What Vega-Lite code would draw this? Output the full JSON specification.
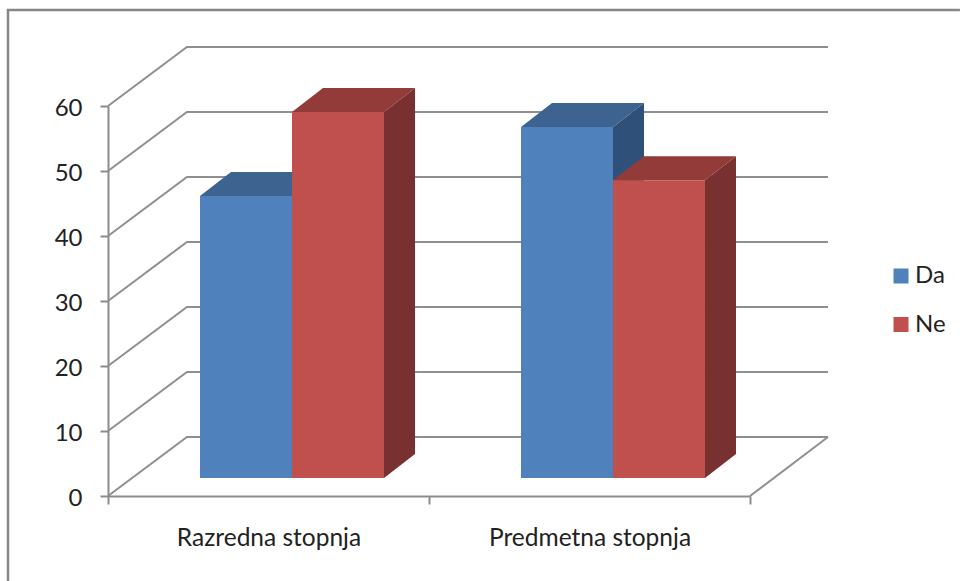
{
"$schema":"https://vega.github.io/schema/vega-lite/v6.json",
"width":642,"height":390,"autosize":{"type":"none"},
"padding":{"left":108,"top":106,"right":210,"bottom":85},
"background":"white",
"config":{"view":{"stroke":null},"font":"Lato"},
"datasets":{
"bars":[
{"category":"Razredna stopnja","series":"Da","value":43.4},
{"category":"Razredna stopnja","series":"Ne","value":56.3},
{"category":"Predmetna stopnja","series":"Da","value":54.0},
{"category":"Predmetna stopnja","series":"Ne","value":45.8}],
"grid":[{"v":0},{"v":10},{"v":20},{"v":30},{"v":40},{"v":50},{"v":60}],
"frame":[{"fx":-0.3115,"fy":-13.1},{"fx":-0.3115,"fy":74.77},{"fx":2.654,"fy":74.77}]
},
"encoding":{
"x":{"field":"px","type":"quantitative","scale":{"domain":[0,2],"nice":false,"zero":false},
"axis":{"title":null,"values":[0,0.5,1,1.5,2],"grid":false,
"labelExpr":"datum.value==0.5?'Razredna stopnja':datum.value==1.5?'Predmetna stopnja':''",
"tickOpacity":{"condition":{"test":"datum.value==0.5||datum.value==1.5","value":0},"value":1},
"domainColor":"#8c8c8c","domainWidth":2,"tickColor":"#8c8c8c","tickWidth":2,"tickSize":8,
"labelFont":"Lato","labelFontSize":24.5,"labelColor":"#222222","labelPadding":22,"labelLimit":400,"labelOverlap":false,"labelFlush":false,"labelBound":false}},
"y":{"field":"py","type":"quantitative","scale":{"domain":[0,60],"nice":false,"zero":false},
"axis":{"title":null,"values":[0,10,20,30,40,50,60],"grid":false,
"domainColor":"#8c8c8c","domainWidth":2,"tickColor":"#8c8c8c","tickWidth":2,"tickSize":8,
"labelFont":"Lato","labelFontSize":24,"labelColor":"#222222","labelPadding":18,"labelOffset":2,"labelOverlap":false,"labelBound":false}}
},
"layer":[
{"data":{"name":"frame"},
"transform":[{"calculate":"datum.fx","as":"px"},{"calculate":"datum.fy","as":"py"}],
"mark":{"type":"line","color":"#868686","strokeWidth":2.5,"clip":false}},
{"data":{"name":"grid"},
"transform":[{"calculate":"[0,1,2]","as":"p"},{"flatten":["p"]},
{"calculate":"datum.p==0?0:(datum.p==1?0.246:2.243)","as":"px"},
{"calculate":"datum.p==0?datum.v:datum.v+9.08","as":"py"}],
"mark":{"type":"line","color":"#8f8f8f","strokeWidth":2,"clip":false},
"encoding":{"detail":{"field":"v"}}},
{"data":{"name":"grid"},
"transform":[{"filter":"datum.v==0"},{"calculate":"[0,1]","as":"p"},{"flatten":["p"]},
{"calculate":"2+datum.p*0.243","as":"px"},
{"calculate":"datum.p*9.08","as":"py"}],
"mark":{"type":"line","color":"#8f8f8f","strokeWidth":2,"clip":false}},
{"data":{"name":"bars"},
"transform":[{"calculate":"[0,1]","as":"d"},{"flatten":["d"]},
{"calculate":"(datum.category=='Razredna stopnja'?0:1)+0.2866*(datum.series=='Da'?2:3)+datum.d*0.0966","as":"px"},
{"calculate":"2.77+datum.d*3.69","as":"py"},
{"calculate":"2.77+datum.value+datum.d*3.69","as":"py2"}],
"mark":{"type":"area","orient":"vertical","clip":false},
"encoding":{"y2":{"field":"py2"},
"fill":{"condition":{"test":"datum.series=='Da'","value":"#2f5078"},"value":"#783130"},
"detail":[{"field":"series"},{"field":"category"}]}},
{"data":{"name":"bars"},
"transform":[{"calculate":"[0,1]","as":"d"},{"flatten":["d"]},
{"calculate":"(datum.category=='Razredna stopnja'?0:1)+0.2866*(datum.series=='Da'?1:2)+datum.d*0.0966","as":"px"},
{"calculate":"datum.px+0.2866","as":"px2"},
{"calculate":"2.77+datum.value+datum.d*3.69","as":"py"}],
"mark":{"type":"area","orient":"horizontal","clip":false},
"encoding":{"x2":{"field":"px2"},
"fill":{"condition":{"test":"datum.series=='Da'","value":"#3d6390"},"value":"#923b39"},
"detail":[{"field":"series"},{"field":"category"}]}},
{"data":{"name":"bars"},
"transform":[
{"calculate":"(datum.category=='Razredna stopnja'?0:1)+0.2866*(datum.series=='Da'?1:2)","as":"px"},
{"calculate":"datum.px+0.2866","as":"px2"},
{"calculate":"2.77","as":"py"},
{"calculate":"2.77+datum.value","as":"py2"}],
"mark":{"type":"rect","clip":false},
"encoding":{"x2":{"field":"px2"},"y2":{"field":"py2"},
"color":{"field":"series","type":"nominal","scale":{"domain":["Da","Ne"],"range":["#4f81bd","#c0504d"]},
"legend":{"title":null,"orient":"none","legendX":781,"legendY":158,"symbolType":"square","symbolSize":225,"symbolStrokeWidth":0,"symbolOpacity":1,
"labelFont":"Lato","labelFontSize":24,"labelColor":"#222222","rowPadding":24.5,"labelOffset":2}}}}
]
}
